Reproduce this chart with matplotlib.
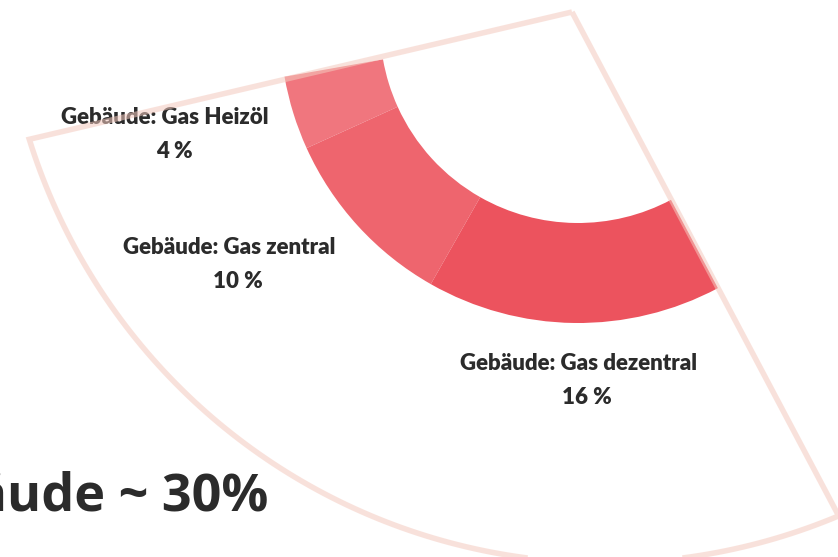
import numpy as np
import matplotlib.pyplot as plt
from matplotlib.patches import Polygon

# shares of building emissions (percent of total)
labels = ['Gebäude: Gas Heizöl', 'Gebäude: Gas zentral', 'Gebäude: Gas dezentral']
shares = [4, 10, 16]
colors = ['#f0767e', '#ee656e', '#ec535e']
label_pos = [(165, 117), (229, 248), (578, 364)]
total_text = 'Gebäude ~ 30%'

W, H = 838, 557
fig = plt.figure(figsize=(W / 100, H / 100), dpi=100)
ax = fig.add_axes([0, 0, 1, 1])

# donut segment (only the 30 % part is drawn)
cx, cy = 578, 25
ax.pie([s / 100 for s in shares], normalize=False, colors=colors,
       startangle=170, counterclock=False, radius=298, center=(cx, cy),
       wedgeprops=dict(width=100, linewidth=0))

# light fan outline around the segment: apex + flattened outer arc
apex = (572, 12)
arc_c, arc_r = (605, -40), 603
t = np.radians(np.linspace(162.7, 67.2, 120))
arc = np.column_stack([arc_c[0] + arc_r * np.cos(t), arc_c[1] + arc_r * np.sin(t)])
fan = Polygon(np.vstack([apex, arc]), closed=True, fill=False,
              edgecolor='#f4cabf', linewidth=4, alpha=0.55, zorder=5,
              joinstyle='miter')
ax.add_patch(fan)

for lab, s, (x, y) in zip(labels, shares, label_pos):
    ax.text(x, y, lab, ha='center', va='center', fontsize=16,
            fontweight='heavy', family='Lato', color='#2b2b2b')
    ax.text(x + 9, y + 34, f'{s} %', ha='center', va='center', fontsize=16,
            fontweight='heavy', family='Lato', color='#2b2b2b')

ax.text(268, 497, total_text, ha='right', va='center', fontsize=37.5,
        fontweight='bold', family='Open Sans', color='#2b2b2b')

ax.set_xlim(0, W)
ax.set_ylim(H, 0)
ax.set_aspect('equal')
ax.axis('off')

plt.savefig('out.png', dpi=100)
